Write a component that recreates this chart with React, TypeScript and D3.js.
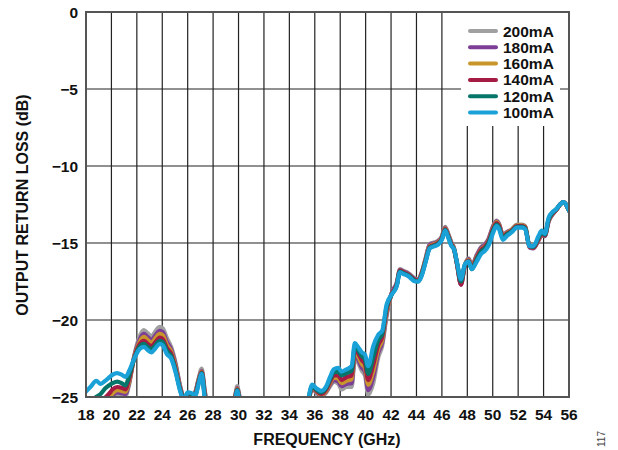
import React from "react";
import * as d3 from "d3";

const freq = [18.0,18.4,18.8,19.15,19.5,19.8,20.1,20.45,20.8,21.1,21.4,21.8,22.2,22.55,22.85,23.15,23.45,23.8,24.05,24.35,24.7,25.05,25.4,25.7,26.0,26.3,26.6,26.85,27.1,27.35,27.7,29.5,29.75,29.9,30.05,30.3,35.3,35.55,35.8,36.15,36.5,36.9,37.2,37.5,37.85,38.1,38.5,38.9,39.15,39.4,39.7,39.95,40.2,40.6,41.0,41.3,41.65,42.05,42.45,42.7,42.95,43.35,43.9,44.15,44.4,44.7,45.05,45.45,45.7,46.0,46.25,46.5,46.75,46.95,47.2,47.5,47.8,48.1,48.35,48.75,49.1,49.4,49.65,50.05,50.3,50.5,50.8,51.1,51.5,51.9,52.3,52.55,52.9,53.2,53.6,53.85,54.1,54.4,54.75,55.0,55.3,55.55,56.0];

const s100 = [-24.65,-24.3,-23.95,-24.15,-23.95,-23.75,-23.55,-23.45,-23.55,-23.7,-23.3,-22.5,-21.9,-21.75,-21.95,-22.1,-21.85,-21.55,-21.65,-22.2,-22.5,-23.4,-24.6,-25.2,-24.7,-24.75,-24.9,-24.2,-23.5,-25.2,-26.5,-26.5,-25.2,-24.6,-25.2,-26.5,-26.5,-24.9,-24.2,-24.45,-24.6,-24.3,-23.7,-23.2,-23.1,-23.35,-23.2,-23.0,-21.5,-21.75,-22.1,-22.25,-23.0,-21.7,-20.95,-20.7,-19.0,-18.35,-17.8,-16.9,-17.0,-17.15,-17.5,-17.5,-17.15,-16.3,-15.35,-15.2,-15.1,-14.8,-14.2,-14.65,-15.2,-15.4,-16.3,-17.35,-16.4,-16.2,-16.7,-16.2,-15.7,-15.5,-15.2,-14.3,-13.9,-14.1,-14.8,-14.55,-14.3,-14.0,-14.0,-14.1,-15.2,-15.2,-14.55,-14.2,-14.4,-13.35,-12.95,-12.8,-12.5,-12.35,-12.9];

const s120 = [-25.6,-25.3,-25.0,-24.8,-24.45,-24.25,-24.1,-24.0,-24.1,-24.25,-23.6,-22.5,-21.75,-21.55,-21.75,-21.9,-21.65,-21.35,-21.45,-22.0,-22.35,-23.3,-24.5,-25.15,-24.75,-24.8,-24.85,-24.1,-23.45,-25.0,-26.4,-26.4,-25.1,-24.55,-25.1,-26.4,-26.6,-25.0,-24.3,-24.55,-24.7,-24.4,-23.85,-23.4,-23.35,-23.6,-23.45,-23.3,-21.7,-21.95,-22.35,-22.55,-23.5,-22.4,-21.3,-20.9,-19.15,-18.35,-17.75,-16.85,-16.95,-17.1,-17.45,-17.5,-17.1,-16.25,-15.3,-15.15,-15.05,-14.75,-14.15,-14.6,-15.15,-15.4,-16.35,-17.5,-16.45,-16.2,-16.7,-16.05,-15.55,-15.35,-15.05,-14.15,-13.8,-14.0,-14.7,-14.45,-14.25,-13.95,-13.95,-14.05,-15.2,-15.25,-14.65,-14.3,-14.45,-13.45,-13.0,-12.8,-12.5,-12.35,-12.9];

const s140 = [-26,-25.8,-25.5,-25.3,-25.05,-24.8,-24.5,-24.35,-24.4,-24.5,-23.8,-22.45,-21.6,-21.35,-21.55,-21.7,-21.45,-21.15,-21.25,-21.8,-22.2,-23.2,-24.45,-25.1,-24.85,-24.9,-24.8,-24.0,-23.4,-24.9,-26.3,-26.3,-25.0,-24.5,-25.0,-26.3,-26.7,-25.05,-24.35,-24.6,-24.8,-24.5,-24.0,-23.6,-23.6,-23.9,-23.7,-23.6,-21.9,-22.15,-22.6,-22.85,-23.9,-22.9,-21.6,-21.1,-19.3,-18.3,-17.7,-16.8,-16.9,-17.05,-17.4,-17.45,-17.05,-16.2,-15.25,-15.1,-15.0,-14.7,-14.1,-14.55,-15.1,-15.4,-16.4,-17.7,-16.5,-16.15,-16.6,-15.95,-15.45,-15.25,-14.95,-14.05,-13.7,-13.9,-14.6,-14.4,-14.2,-13.9,-13.9,-14.0,-15.25,-15.3,-14.75,-14.4,-14.5,-13.5,-13.05,-12.85,-12.5,-12.35,-12.9];

const s160 = [-26,-26,-25.8,-25.5,-25.3,-25.05,-24.75,-24.55,-24.6,-24.65,-23.95,-22.4,-21.45,-21.1,-21.3,-21.5,-21.2,-20.9,-21.0,-21.6,-22.05,-23.05,-24.4,-25.1,-24.9,-24.95,-24.75,-23.95,-23.35,-24.8,-26.2,-26.2,-24.95,-24.45,-24.95,-26.2,-26.8,-25.1,-24.4,-24.65,-24.85,-24.6,-24.1,-23.75,-23.8,-24.1,-23.95,-23.85,-22.1,-22.35,-22.85,-23.1,-24.2,-23.3,-21.85,-21.3,-19.45,-18.3,-17.7,-16.8,-16.9,-17.05,-17.4,-17.45,-17.0,-16.15,-15.2,-15.05,-14.95,-14.65,-14.05,-14.5,-15.05,-15.35,-16.4,-17.6,-16.45,-16.1,-16.55,-15.9,-15.4,-15.2,-14.9,-14.0,-13.65,-13.85,-14.55,-14.35,-14.15,-13.85,-13.85,-13.95,-15.25,-15.3,-14.8,-14.45,-14.5,-13.55,-13.05,-12.85,-12.5,-12.35,-12.9];

const s180 = [-26,-26,-26,-25.7,-25.45,-25.2,-24.9,-24.7,-24.75,-24.8,-24.05,-22.35,-21.3,-20.9,-21.1,-21.3,-21.0,-20.7,-20.8,-21.4,-21.9,-22.9,-24.3,-25.05,-24.95,-25.0,-24.7,-23.9,-23.3,-24.7,-26.1,-26.1,-24.9,-24.4,-24.9,-26.1,-26.9,-25.15,-24.45,-24.7,-24.9,-24.65,-24.2,-23.9,-24.0,-24.3,-24.15,-24.1,-22.3,-22.55,-23.1,-23.35,-24.55,-23.7,-22.1,-21.5,-19.6,-18.25,-17.6,-16.75,-16.85,-17.0,-17.35,-17.4,-16.95,-16.1,-15.1,-15.0,-14.9,-14.6,-14.0,-14.45,-15.0,-15.35,-16.45,-17.7,-16.5,-16.05,-16.5,-15.8,-15.3,-15.1,-14.8,-13.9,-13.6,-13.8,-14.5,-14.3,-14.15,-13.85,-13.85,-13.95,-15.3,-15.35,-14.85,-14.5,-14.55,-13.6,-13.1,-12.85,-12.5,-12.35,-12.9];

const s200 = [-26,-26,-26,-25.9,-25.6,-25.35,-25.05,-24.85,-24.9,-24.95,-24.15,-22.3,-21.1,-20.65,-20.85,-21.05,-20.75,-20.45,-20.55,-21.15,-21.75,-22.8,-24.25,-25.0,-25.0,-25.05,-24.65,-23.85,-23.15,-24.6,-26.0,-26.0,-24.85,-24.3,-24.85,-26.0,-27,-25.2,-24.5,-24.75,-24.95,-24.7,-24.3,-24.0,-24.15,-24.5,-24.35,-24.35,-22.5,-22.75,-23.3,-23.6,-24.85,-24.1,-22.4,-21.7,-19.75,-18.25,-17.55,-16.7,-16.8,-16.95,-17.3,-17.35,-16.95,-16.05,-15.05,-14.95,-14.85,-14.55,-13.95,-14.4,-14.95,-15.3,-16.4,-17.6,-16.45,-16.0,-16.45,-15.75,-15.25,-15.05,-14.75,-13.85,-13.55,-13.75,-14.45,-14.3,-14.1,-13.8,-13.8,-13.9,-15.25,-15.3,-14.8,-14.45,-14.5,-13.55,-13.05,-12.85,-12.5,-12.35,-12.9];

const seriesNames = ["200mA", "180mA", "160mA", "140mA", "120mA", "100mA"];
const seriesValues = [s200, s180, s160, s140, s120, s100];
const seriesColors = ["#a0a0a0", "#7d3f96", "#c9962c", "#a51b43", "#06756a", "#1aa2d8"];

const xTicks = d3.range(18, 57, 2);
const yTicks = [0, -5, -10, -15, -20, -25];

const W = 618, H = 450;
const L = 86, R = 569, T = 12, B = 397;

export default function App() {
  const x = d3.scaleLinear().domain([18, 56]).range([L, R]);
  const y = d3.scaleLinear().domain([0, -25]).range([T, B]);
  const line = d3.line<number>()
    .x((_, i) => x(freq[i]))
    .y((v) => y(v))
    .curve(d3.curveMonotoneX);
  const fmt = (v: number) => (v < 0 ? "\u2212" + Math.abs(v) : String(v));
  const font = "'Liberation Sans', Arial, Helvetica, sans-serif";
  const legX = 470, legY = 31, legDy = 16.3;

  return (
    <svg width={W} height={H} style={{ position: "absolute", left: 0, top: 0, background: "#fff" }} fontFamily={font}>
      <defs>
        <clipPath id="plotclip">
          <rect x={L} y={T} width={R - L} height={B - T} />
        </clipPath>
      </defs>
      <rect x={0} y={0} width={W} height={H} fill="#fff" />
      {xTicks.map((t) => (
        <line key={"gx" + t} x1={x(t)} x2={x(t)} y1={T} y2={B} stroke="#222" strokeWidth={1.2} />
      ))}
      {yTicks.map((t) => (
        <line key={"gy" + t} x1={L} x2={R} y1={y(t)} y2={y(t)} stroke="#222" strokeWidth={1.2} />
      ))}
      <g clipPath="url(#plotclip)">
        {seriesValues.map((vals, k) => (
          <path key={seriesNames[k]} d={line(vals) || ""} fill="none" stroke={seriesColors[k]}
            strokeWidth={4.2} strokeLinejoin="round" strokeLinecap="round" />
        ))}
      </g>
      <rect x={L} y={T} width={R - L} height={B - T} fill="none" stroke="#555" strokeWidth={2} />
      <rect x={461} y={T + 1} width={99} height={113} fill="#fff" />
      {seriesNames.map((n, k) => (
        <g key={"leg" + n}>
          <line x1={legX} x2={legX + 26} y1={legY + k * legDy} y2={legY + k * legDy}
            stroke={seriesColors[k]} strokeWidth={4} strokeLinecap="round" />
          <text x={legX + 33} y={legY + k * legDy + 5.5} fontSize={15.5} fontWeight="bold" fill="#111">{n}</text>
        </g>
      ))}
      {yTicks.map((t) => (
        <text key={"ty" + t} x={78} y={y(t) + 5.5} textAnchor="end" fontSize={15.5} fontWeight="bold" fill="#111">{fmt(t)}</text>
      ))}
      {xTicks.map((t) => (
        <text key={"tx" + t} x={x(t)} y={420} textAnchor="middle" fontSize={15.5} fontWeight="bold" fill="#111">{t}</text>
      ))}
      <text x={327} y={445} textAnchor="middle" fontSize={16} fontWeight="bold" fill="#111">FREQUENCY (GHz)</text>
      <text transform={`translate(28,${205}) rotate(-90)`} textAnchor="middle" fontSize={16} fontWeight="bold" fill="#111">OUTPUT RETURN LOSS (dB)</text>
      <text transform={`translate(605,447) rotate(-90)`} textAnchor="start" fontSize={10} fill="#444">117</text>
    </svg>
  );
}
